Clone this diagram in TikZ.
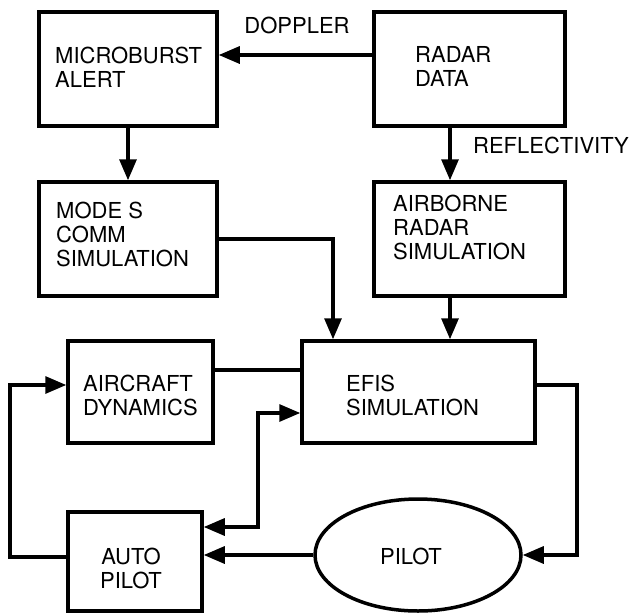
\documentclass[tikz,border=0pt]{standalone}
\usepackage{fontspec}
\setmainfont{TeX Gyre Heros}
\usetikzlibrary{arrows.meta,shapes.geometric}
\begin{document}
\begin{tikzpicture}[x=1pt,y=-1pt,
  box/.style={draw, line width=3.5pt, rectangle, inner sep=0pt},
  txt/.style={font=\fontsize{22}{24}\selectfont, align=left, inner sep=0pt},
  conn/.style={line width=3.2pt},
  tip/.tip={Triangle[length=21pt,width=17pt]},
  arr/.style={conn, -tip},
]
\useasboundingbox (0,0) rectangle (638,614);
% boxes
\node[box, minimum width=178pt, minimum height=114pt] (mb) at (128,69) {};
\node[box, minimum width=178pt, minimum height=114pt] (ms) at (128,239) {};
\node[box, minimum width=191pt, minimum height=114pt] (rd) at (469.5,69) {};
\node[box, minimum width=191pt, minimum height=114pt] (ar) at (469.5,239) {};
\node[box, minimum width=233pt, minimum height=102pt] (ef) at (418.5,392) {};
\node[box, minimum width=145pt, minimum height=102pt] (ad) at (140.5,392) {};
\node[box, minimum width=134pt, minimum height=99pt] (ap) at (135,561.5) {};
\node[draw, ellipse, line width=3.5pt, minimum width=206pt, minimum height=112pt, inner sep=0pt] (pl) at (418,555) {};
% texts
\node[txt, anchor=west] (tmb) at (55,67.5) {MICROBURST\\ALERT};
\node[txt, anchor=west] (tms) at (56,234) {MODE S\\COMM\\SIMULATION};
\node[txt, anchor=west] (trd) at (415,66) {RADAR\\DATA};
\node[txt, anchor=west] (tar) at (393,227) {AIRBORNE\\RADAR\\SIMULATION};
\node[txt, anchor=west] (tad) at (83,395) {AIRCRAFT\\DYNAMICS};
\node[txt, anchor=west] (tef) at (346,395) {EFIS\\SIMULATION};
\node[txt, align=center] (tap) at (131,568) {AUTO\\PILOT};
\node[txt] (tpl) at (411,556) {PILOT};
\node[txt] (dop) at (297,25) {DOPPLER};
\node[txt] (refl) at (551,145) {REFLECTIVITY};
% helper coordinates
\coordinate (yd) at (0,55);
\coordinate (xr) at (450,0);
\coordinate (xm) at (333,0);
\coordinate (ya) at (0,370);
\coordinate (xl) at (10,0);
\coordinate (yb) at (0,385);
\coordinate (yc) at (0,557);
\coordinate (xv) at (258,0);
\coordinate (ye) at (0,413);
\coordinate (yf) at (0,527);
\coordinate (xg) at (577,0);
\coordinate (yg) at (0,385);
% connectors
\draw[arr] (rd.west |- yd) -- (mb.east |- yd);
\draw[arr] (mb.south) -- (ms.north);
\draw[arr] (xr |- rd.south) -- (xr |- ar.north);
\draw[arr] (xr |- ar.south) -- (xr |- ef.north);
\draw[arr] (ms.east) -| (xm |- ef.north);
\draw[conn] (ad.east |- ya) -- (ef.west |- ya);
\draw[arr] (ap.west |- yc) -| (xl |- yb) -- (ad.west |- yb);
\draw[conn, tip-tip] (ap.east |- yf) -| (xv |- ye) -- (ef.west |- ye);
\draw[arr] (ef.east |- yg) -| (xg |- pl.east) -- (pl.east);
\draw[arr] (pl.west) -- (ap.east |- pl.west);
\end{tikzpicture}
\end{document}
